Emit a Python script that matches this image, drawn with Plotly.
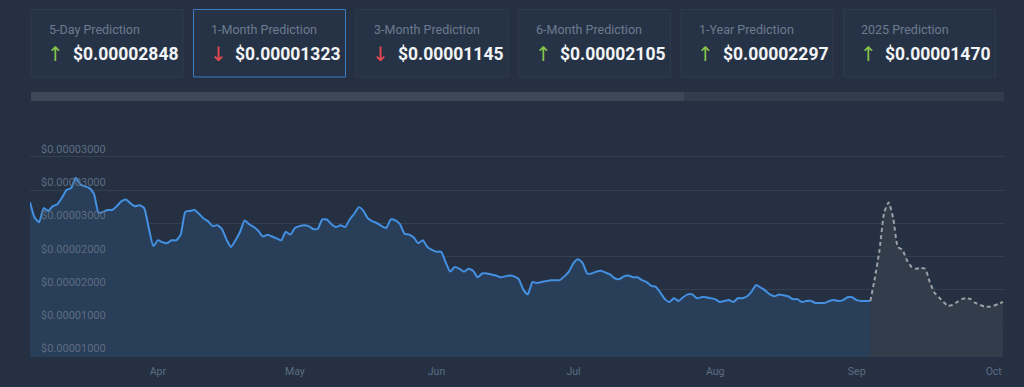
import pandas as pd
import plotly.graph_objects as go

# ---------------- data (prices in units of 1e-5 USD) ----------------
hist_start = "2024-03-04"
hist_vals = [
    2.72, 2.56, 2.51, 2.66, 2.63, 2.68, 2.70, 2.77, 2.85, 2.87,
    2.98, 2.91, 2.89, 2.87, 2.81, 2.61, 2.62, 2.64, 2.64, 2.68,
    2.73, 2.75, 2.71, 2.68, 2.69, 2.66, 2.45, 2.26, 2.32, 2.30,
    2.29, 2.32, 2.32, 2.38, 2.62, 2.63, 2.64, 2.60, 2.55, 2.52,
    2.47, 2.48, 2.44, 2.33, 2.25, 2.32, 2.41, 2.53, 2.49, 2.46,
    2.42, 2.36, 2.38, 2.36, 2.34, 2.32, 2.41, 2.38, 2.45, 2.47,
    2.48, 2.47, 2.44, 2.44, 2.54, 2.54, 2.49, 2.46, 2.48, 2.46,
    2.54, 2.60, 2.67, 2.63, 2.55, 2.52, 2.50, 2.47, 2.45, 2.54,
    2.53, 2.49, 2.39, 2.38, 2.35, 2.29, 2.32, 2.25, 2.22, 2.20,
    2.20, 2.09, 1.99, 2.04, 2.02, 1.99, 2.02, 2.00, 1.93, 1.97,
    1.97, 1.96, 1.95, 1.93, 1.94, 1.95, 1.94, 1.91, 1.80, 1.75,
    1.88, 1.87, 1.88, 1.89, 1.90, 1.90, 1.90, 1.94, 1.99, 2.08,
    2.12, 2.08, 1.97, 1.97, 1.99, 2.00, 1.98, 1.96, 1.92, 1.91,
    1.94, 1.95, 1.93, 1.93, 1.90, 1.88, 1.84, 1.83, 1.77, 1.70,
    1.67, 1.71, 1.68, 1.72, 1.75, 1.75, 1.71, 1.72, 1.72, 1.71,
    1.70, 1.67, 1.68, 1.69, 1.67, 1.71, 1.71, 1.73, 1.78, 1.85,
    1.82, 1.79, 1.75, 1.73, 1.75, 1.74, 1.73, 1.70, 1.70, 1.67,
    1.68, 1.68, 1.66, 1.66, 1.66, 1.68, 1.69, 1.68, 1.69, 1.72,
    1.72, 1.69, 1.68, 1.68, 1.68,
]
fc_start = "2024-09-04"
fc_vals = [
    1.68, 1.93, 2.22, 2.61, 2.72, 2.55, 2.25, 2.22, 2.11, 2.04,
    2.02, 2.03, 2.02, 1.88, 1.77, 1.72, 1.67, 1.63, 1.64, 1.67,
    1.70, 1.71, 1.70, 1.66, 1.64, 1.62, 1.62, 1.63, 1.65, 1.67,
]
UNIT = 1e-5

ytick_vals = [1.10, 1.45, 1.80, 2.15, 2.50, 2.85, 3.20]
ytick_text = ["$0.00001000", "$0.00001000", "$0.00002000", "$0.00002000",
              "$0.00003000", "$0.00003000", "$0.00003000"]

card_titles = ["5-Day Prediction", "1-Month Prediction", "3-Month Prediction",
               "6-Month Prediction", "1-Year Prediction", "2025 Prediction"]
card_values = ["$0.00002848", "$0.00001323", "$0.00001145",
               "$0.00002105", "$0.00002297", "$0.00001470"]
card_up = [True, False, False, True, True, True]
card_selected = 1

# ---------------- styling ----------------
BG = "#253143"
GRID = "#323f51"
LABEL = "#5d6c82"
W, H = 1024, 387
PL, PR, PT, PB = 30, 1004, 138, 357
Y_BOTTOM = 1.09      # value at pixel PB
PX_PER_UNIT = 33.2 / 0.35
Y_TOP = Y_BOTTOM + (PB - PT) / PX_PER_UNIT

def px_x(px):
    return (px - PL) / (PR - PL)

def px_y(py):
    return (PB - py) / (PB - PT)

hist_dates = pd.date_range(hist_start, periods=len(hist_vals), freq="D")
fc_dates = pd.date_range(fc_start, periods=len(fc_vals), freq="D")

fig = go.Figure()
fig.add_trace(go.Scatter(
    x=hist_dates, y=[v * UNIT for v in hist_vals], mode="lines",
    line=dict(color="#4490e2", width=2, shape="spline", smoothing=0.5),
    fill="tozeroy", fillcolor="#293e58", hoverinfo="skip", showlegend=False))
fig.add_trace(go.Scatter(
    x=fc_dates, y=[v * UNIT for v in fc_vals], mode="lines",
    line=dict(color="#9c9fa4", width=2, dash="4px,3px", shape="spline", smoothing=0.5),
    fill="tozeroy", fillcolor="#323c4b", hoverinfo="skip", showlegend=False))

shapes = []
annotations = []

# scroll / progress bar
shapes.append(dict(type="rect", xref="paper", yref="paper",
                   x0=px_x(31), x1=px_x(1004), y0=px_y(101), y1=px_y(92),
                   fillcolor="#313c4d", line=dict(width=0), layer="below"))
shapes.append(dict(type="rect", xref="paper", yref="paper",
                   x0=px_x(31), x1=px_x(684), y0=px_y(101), y1=px_y(92),
                   fillcolor="#3d4758", line=dict(width=0), layer="below"))

for k, (title, val, up) in enumerate(zip(card_titles, card_values, card_up)):
    left = 31 + 162.5 * k
    right = left + 152
    sel = (k == card_selected)
    shapes.append(dict(type="rect", xref="paper", yref="paper",
                       x0=px_x(left), x1=px_x(right), y0=px_y(77), y1=px_y(9.5),
                       fillcolor="#263346",
                       line=dict(color="#3b7cc2" if sel else "#2f3b4d", width=1),
                       layer="below"))
    annotations.append(dict(xref="paper", yref="paper", x=px_x(left + 15.5), y=px_y(29.5),
                            text=title, showarrow=False, xanchor="left", yanchor="middle",
                            font=dict(family="Roboto", size=12.5, color="#6c7a8f")))
    annotations.append(dict(xref="paper", yref="paper", x=px_x(left + 24.5), y=px_y(54),
                            text="↑" if up else "↓", showarrow=False,
                            xanchor="center", yanchor="middle",
                            font=dict(family="DejaVu Sans", size=20,
                                      color="#8bc34a" if up else "#e5484f")))
    annotations.append(dict(xref="paper", yref="paper", x=px_x(left + 39.5), y=px_y(54),
                            text="<b>" + val + "</b>", showarrow=False,
                            xanchor="left", yanchor="middle",
                            font=dict(family="Roboto", size=17.5, color="#f2f4f7")))

fig.update_layout(
    width=W, height=H,
    margin=dict(l=PL, r=W - PR, t=PT, b=H - PB, autoexpand=False),
    paper_bgcolor=BG, plot_bgcolor=BG,
    shapes=shapes, annotations=annotations,
    xaxis=dict(type="date", range=["2024-03-04", "2024-10-03 06:00"],
               tickvals=["2024-04-01", "2024-05-01", "2024-06-01", "2024-07-01",
                         "2024-08-01", "2024-09-01", "2024-10-01"],
               ticktext=["Apr", "May", "Jun", "Jul", "Aug", "Sep", "Oct"],
               showgrid=False, zeroline=False, showline=False, ticks="",
               ticklabelstandoff=6, automargin=False,
               tickfont=dict(family="Roboto", size=10.5, color=LABEL)),
    yaxis=dict(range=[Y_BOTTOM * UNIT, Y_TOP * UNIT],
               tickvals=[v * UNIT for v in ytick_vals], ticktext=ytick_text,
               ticklabelposition="inside top", ticklabelstandoff=8, automargin=False,
               showgrid=True, gridcolor=GRID, gridwidth=1,
               zeroline=False, showline=False, ticks="",
               tickfont=dict(family="Roboto", size=11, color=LABEL)),
)

fig.write_html(
    "out.html",
    config={"displayModeBar": False},
    post_script="document.body.style.margin='0';document.body.style.overflow='hidden';"
                "document.body.style.background='" + BG + "';",
)
